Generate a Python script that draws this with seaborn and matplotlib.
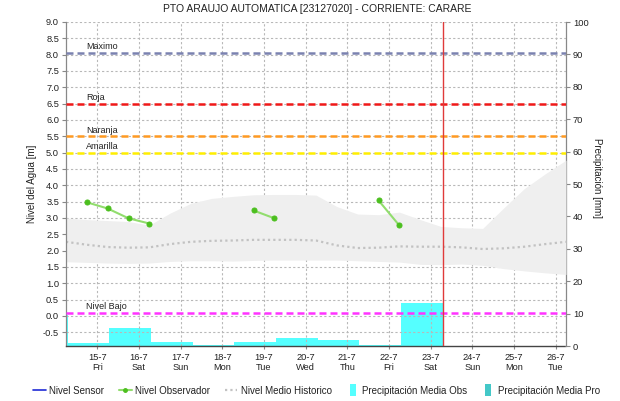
import matplotlib
matplotlib.use("Agg")
import matplotlib.pyplot as plt
import matplotlib.dates as mdates
import matplotlib.transforms as mtransforms
from matplotlib.lines import Line2D
from matplotlib.ticker import FuncFormatter, MultipleLocator
import numpy as np
import pandas as pd
import seaborn as sns

TITLE = "PTO ARAUJO AUTOMATICA [23127020] - CORRIENTE: CARARE"

# Water level from the automatic sensor (no data in this window)
sensor_times = []
sensor_level = []

# Observer readings (m), taken at 06:00 and 18:00
obs_times = ["2022-07-14 18:00", "2022-07-15 06:00", "2022-07-15 18:00", "2022-07-16 06:00",
             "2022-07-18 18:00", "2022-07-19 06:00",
             "2022-07-21 18:00", "2022-07-22 06:00"]
obs_level = [3.48, 3.29, 2.99, 2.83, 3.23, 2.99, 3.54, 2.77]
obs_run = [1, 1, 1, 1, 2, 2, 3, 3]

# Historical level envelope and mean (m), every 12 h
hist_start = "2022-07-14 06:00"
hist_upper = [3.00, 2.95, 2.92, 2.89, 2.78, 3.15, 3.45, 3.60, 3.66, 3.71, 3.72, 3.72, 3.70,
              3.35, 3.12, 3.10, 3.18, 2.95, 2.74, 2.70, 2.68, 3.30, 3.90, 4.35, 4.77]
hist_median = [2.27, 2.18, 2.11, 2.09, 2.10, 2.20, 2.27, 2.30, 2.31, 2.33, 2.33, 2.33, 2.31,
               2.16, 2.08, 2.09, 2.13, 2.12, 2.12, 2.10, 2.05, 2.07, 2.12, 2.20, 2.27]
hist_lower = [1.66, 1.64, 1.62, 1.61, 1.62, 1.67, 1.69, 1.69, 1.68, 1.70, 1.71, 1.71, 1.71,
              1.71, 1.69, 1.67, 1.65, 1.58, 1.57, 1.59, 1.55, 1.45, 1.38, 1.32, 1.27]

# Daily precipitation (mm), hydrological day starting 07:00
prec_start = ["2022-07-13 07:00", "2022-07-14 07:00", "2022-07-15 07:00", "2022-07-16 07:00",
              "2022-07-17 07:00", "2022-07-18 07:00", "2022-07-19 07:00", "2022-07-20 07:00",
              "2022-07-21 07:00", "2022-07-22 07:00"]
prec_obs = [9.5, 1.0, 5.7, 1.3, 0.4, 1.3, 2.6, 1.8, 0.3, 13.2]
prec_pro = []

# Alert thresholds (m)
threshold_names = ["Maximo", "Roja", "Naranja", "Amarilla", "Nivel Bajo"]
threshold_levels = [8.05, 6.5, 5.5, 5.0, 0.1]
threshold_colors = ["#7b82b0", "#f01818", "#ff9a22", "#ffee00", "#ff33ff"]

now_time = "2022-07-23 07:00"
x_range = ("2022-07-14 06:00", "2022-07-26 06:00")

sns.set_theme(style="white")
plt.rcParams["font.family"] = ["Liberation Sans", "DejaVu Sans"]
TEXT = "#222222"

fig = plt.figure(figsize=(6.2, 4.01), dpi=100)
ax = fig.add_axes([66 / 620, 1 - 346 / 401, 500 / 620, 324 / 401])
ax2 = ax.twinx()
ax.set_zorder(ax2.get_zorder() + 1)
ax.patch.set_visible(False)
ax2.patch.set_facecolor("white")

# Precipitation bars on the right-hand scale
prec_df = pd.DataFrame({"start": pd.to_datetime(prec_start), "mm": prec_obs})
ax2.bar(prec_df["start"], prec_df["mm"], width=1.0, align="edge",
        color="#55ffff", linewidth=0)
ax2.set_ylim(0, 100)
ax2.yaxis.set_major_locator(MultipleLocator(10))

# Historical envelope and mean
hist_df = pd.DataFrame({
    "time": pd.date_range(hist_start, periods=len(hist_upper), freq="12h"),
    "upper": hist_upper, "median": hist_median, "lower": hist_lower,
})
ax.fill_between(hist_df["time"], hist_df["lower"], hist_df["upper"],
                color="#efefef", linewidth=0, zorder=1)
sns.lineplot(data=hist_df, x="time", y="median", ax=ax, color="#c2c2c2",
             linewidth=1.6, zorder=2, legend=False)
ax.lines[-1].set_linestyle((0, (1.0, 1.4)))

# Sensor level
ax.plot(pd.to_datetime(sensor_times), sensor_level, color="#1f2bd6", linewidth=1.2)

# Observer readings
obs_df = pd.DataFrame({"time": pd.to_datetime(obs_times), "level": obs_level, "run": obs_run})
sns.lineplot(data=obs_df, x="time", y="level", units="run", estimator=None, ax=ax,
             color="#92dd6e", linewidth=1.5, marker="o", markersize=3.6,
             markerfacecolor="#4cbf1f", markeredgecolor="#4cbf1f", zorder=5, legend=False)

# Threshold lines with labels
lab_tr = mtransforms.blended_transform_factory(ax.transAxes, ax.transData)
for name, lvl, col in zip(threshold_names, threshold_levels, threshold_colors):
    ax.axhline(lvl, color=col, linewidth=1.8, dashes=(2.8, 1.6), zorder=4)
    ax.annotate(name, xy=(0.04, lvl), xycoords=lab_tr, xytext=(0, 1.2),
                textcoords="offset points", ha="left", va="bottom",
                fontsize=6.5, color=TEXT, zorder=6)

# Current time marker
ax.axvline(pd.Timestamp(now_time), color="#e03a3a", linewidth=1.0, zorder=6)

# Axes, ticks and grid
ax.set_xlim(pd.Timestamp(x_range[0]), pd.Timestamp(x_range[1]))
ax.set_ylim(-0.92, 9.0)
ax.yaxis.set_major_locator(MultipleLocator(0.5))
ax.yaxis.set_major_formatter(FuncFormatter(lambda v, p: f"{v:.1f}"))
ax.xaxis.set_major_locator(mdates.DayLocator())
ax.xaxis.set_major_formatter(FuncFormatter(
    lambda v, p: (lambda d: f"{d.day}-{d.month}\n{d:%a}")(mdates.num2date(v))))
ax.grid(True, color="#b8b8b8", linestyle=(0, (2, 2)), linewidth=0.8)

ax.tick_params(axis="y", labelsize=6.7, length=3, width=0.8, color="#888888",
               pad=2, labelcolor=TEXT, left=True)
ax.tick_params(axis="x", labelsize=6.7, length=2, width=0.8, color="#888888",
               pad=3, labelcolor=TEXT, bottom=True)
ax2.tick_params(axis="y", labelsize=6.7, length=3, width=0.8, color="#888888",
                pad=2, labelcolor=TEXT, right=True)

for s in ("top", "right"):
    ax.spines[s].set_visible(False)
ax.spines["left"].set_color("#888888")
ax.spines["left"].set_linewidth(0.9)
ax.spines["bottom"].set_color("#444444")
ax.spines["bottom"].set_linewidth(1.0)
ax.spines["bottom"].set_linestyle((0, (1, 1)))
for s in ("top", "left", "bottom"):
    ax2.spines[s].set_visible(False)
ax2.spines["right"].set_color("#888888")
ax2.spines["right"].set_linewidth(0.9)

ax.set_xlabel("")
ax.set_ylabel("Nivel del Agua [m]", fontsize=7, color=TEXT)
ax.yaxis.set_label_coords(-0.058, 0.5)
ax2.set_ylabel("Precipitación [mm]", fontsize=7, color=TEXT, rotation=-90, va="center")
ax2.yaxis.set_label_coords(1.062, 0.52)

fig.text(0.511, 1 - 9.5 / 401, TITLE, ha="center", va="center", fontsize=7.5, color=TEXT)

# Legend
rect = [(-0.3, -0.5), (0.3, -0.5), (0.3, 0.5), (-0.3, 0.5)]
handles = [
    Line2D([], [], color="#1f2bd6", linewidth=1.2),
    Line2D([], [], color="#92dd6e", linewidth=1.5, marker="o", markersize=2.5,
           markerfacecolor="#4cbf1f", markeredgecolor="#4cbf1f"),
    Line2D([], [], color="#c2c2c2", linewidth=1.6, linestyle=(0, (1.0, 1.4))),
    Line2D([], [], linestyle="none", marker=rect, markersize=8,
           markerfacecolor="#55ffff", markeredgewidth=0),
    Line2D([], [], linestyle="none", marker=rect, markersize=8,
           markerfacecolor="#44c8c8", markeredgewidth=0),
]
labels = ["Nivel Sensor", "Nivel Observador", "Nivel Medio Historico",
          "Precipitación Media Obs", "Precipitación Media Pro"]
fig.legend(handles, labels, loc="center", bbox_to_anchor=(0.511, 1 - 390.5 / 401),
           ncol=5, frameon=False, fontsize=7, handlelength=1.3, handletextpad=0.35,
           columnspacing=1.5, labelcolor=TEXT, borderpad=0)

fig.savefig("out.png", dpi=100)
